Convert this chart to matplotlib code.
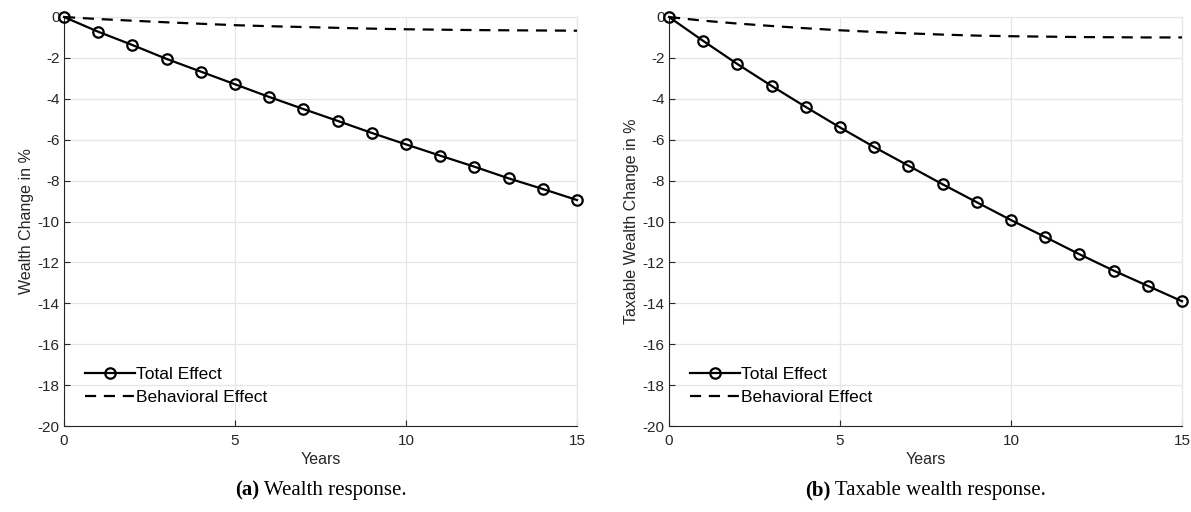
import matplotlib
matplotlib.use('Agg')
import matplotlib.pyplot as plt
import numpy as np

plt.rcParams.update({'font.family': ['Liberation Sans', 'DejaVu Sans']})
plt.rcParams['axes.unicode_minus'] = False

years = np.arange(0, 16)

# panel (a): wealth
total_a = [0, -0.72, -1.37, -2.05, -2.67, -3.29, -3.91, -4.50, -5.08, -5.67,
           -6.23, -6.78, -7.32, -7.89, -8.41, -8.95]
behav_a = [0, -0.10, -0.18, -0.26, -0.33, -0.40, -0.45, -0.49, -0.53, -0.57,
           -0.60, -0.62, -0.64, -0.65, -0.66, -0.67]

# panel (b): taxable wealth
total_b = [0, -1.17, -2.30, -3.37, -4.40, -5.40, -6.36, -7.27, -8.18, -9.06,
           -9.93, -10.76, -11.60, -12.40, -13.15, -13.90]
behav_b = [0, -0.18, -0.32, -0.44, -0.55, -0.65, -0.73, -0.80, -0.86, -0.91,
           -0.94, -0.96, -0.98, -0.99, -1.00, -1.00]

ylabels = ['Wealth Change in %', 'Taxable Wealth Change in %']
captions = [('(a)', 'Wealth response.'), ('(b)', 'Taxable wealth response.')]

fig = plt.figure(figsize=(11.91, 5.12), dpi=100)
ax1 = fig.add_axes([64 / 1191, 1 - 426 / 512, 513 / 1191, 409 / 512])
ax2 = fig.add_axes([669 / 1191, 1 - 426 / 512, 513 / 1191, 409 / 512])

axc = '#262626'
cap_parts = []
for ax, tot, beh, yl, cap in zip([ax1, ax2], [total_a, total_b], [behav_a, behav_b],
                                 ylabels, captions):
    ax.plot(years, tot, '-o', color='k', lw=1.6, ms=7.5, mfc='none', mew=1.6,
            label='Total Effect', clip_on=False, zorder=3)
    ax.plot(years, beh, '--', color='k', lw=1.6, dashes=(5, 3.5),
            label='Behavioral Effect', clip_on=False, zorder=3)
    ax.set_xlim(0, 15)
    ax.set_ylim(-20, 0)
    ax.set_xticks([0, 5, 10, 15])
    ax.set_yticks(np.arange(-20, 1, 2))
    ax.grid(True, color='#e6e6e6', lw=0.9)
    ax.set_axisbelow(True)
    for s in ['top', 'right']:
        ax.spines[s].set_color('#e6e6e6')
        ax.spines[s].set_linewidth(0.9)
    for s in ['left', 'bottom']:
        ax.spines[s].set_color(axc)
        ax.spines[s].set_linewidth(0.8)
    ax.tick_params(direction='in', length=4, width=0.8, colors=axc, labelsize=11,
                   top=False, right=False)
    ax.tick_params(axis='x', pad=6)
    ax.tick_params(axis='y', pad=3)
    ax.set_xlabel('Years', fontsize=11.5, color=axc, labelpad=3)
    ax.set_ylabel(yl, fontsize=11.5, color=axc, labelpad=3)
    ax.legend(loc='lower left', frameon=False, fontsize=12.5,
              handlelength=2.9, handletextpad=0.05, borderaxespad=0.9,
              labelspacing=0.45, borderpad=0.3)
    pos = ax.get_position()
    cx = pos.x0 + pos.width / 2
    t1 = fig.text(cx, 0.042, cap[0], ha='left', va='center', fontsize=15,
                  family='Liberation Serif', weight='bold')
    t2 = fig.text(cx, 0.042, ' ' + cap[1], ha='left', va='center', fontsize=15,
                  family='Liberation Serif')
    cap_parts.append((cx, t1, t2))

# centre the two-part captions under each panel
fig.canvas.draw()
r = fig.canvas.get_renderer()
W = fig.bbox.width
for cx, t1, t2 in cap_parts:
    w1 = t1.get_window_extent(r).width / W
    w2 = t2.get_window_extent(r).width / W
    x0 = cx - (w1 + w2) / 2
    t1.set_x(x0)
    t2.set_x(x0 + w1)

plt.savefig('out.png', dpi=100)
